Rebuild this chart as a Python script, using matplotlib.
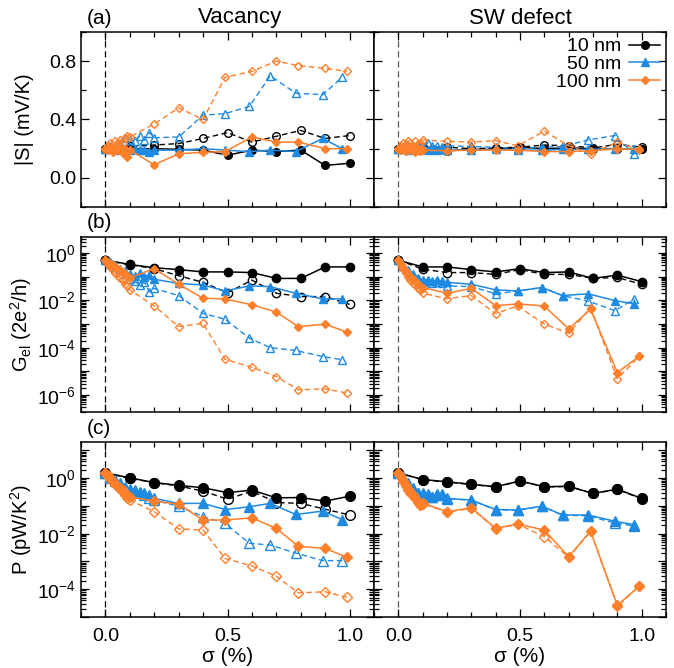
import matplotlib
matplotlib.use("Agg")
import matplotlib.pyplot as plt
from matplotlib.ticker import FixedLocator, FuncFormatter, MultipleLocator, LogLocator, NullFormatter
import numpy as np

plt.rcParams['font.family'] = ['Liberation Sans', 'DejaVu Sans']
plt.rcParams['mathtext.fontset'] = 'custom'
plt.rcParams['mathtext.rm'] = 'Liberation Sans'
plt.rcParams['mathtext.it'] = 'Liberation Sans:italic'
plt.rcParams['mathtext.bf'] = 'Liberation Sans:bold'

# ---------------- data ----------------
sizes = ["10 nm", "50 nm", "100 nm"]
x10 = [0, 0.1, 0.2, 0.3, 0.4, 0.5, 0.6, 0.7, 0.8, 0.9, 1.0]
x50 = [0, 0.02, 0.04, 0.06, 0.08, 0.1, 0.12, 0.14, 0.16, 0.18, 0.2,
       0.3, 0.4, 0.49, 0.59, 0.675, 0.78, 0.89, 0.97]
x100 = [0, 0.01, 0.02, 0.03, 0.04, 0.05, 0.06, 0.07, 0.08, 0.09, 0.1,
        0.2, 0.3, 0.4, 0.49, 0.6, 0.7, 0.79, 0.9, 0.99]

# (a) |S| (mV/K), vacancy
S_vac_10_solid = [0.20, 0.20, 0.20, 0.195, 0.19, 0.155, 0.19, 0.18, 0.19, 0.085, 0.10]
S_vac_10_dash = [0.20, 0.215, 0.225, 0.235, 0.27, 0.31, 0.245, 0.285, 0.325, 0.27, 0.29]
S_vac_50_solid = [0.20, 0.21, 0.19, 0.21, 0.20, 0.19, 0.20, 0.19, 0.19, 0.18, 0.19,
                  0.19, 0.20, 0.19, 0.18, 0.19, 0.18, 0.27, 0.20]
S_vac_50_dash = [0.20, 0.22, 0.21, 0.24, 0.27, 0.26, 0.25, 0.285, 0.26, 0.31, 0.275,
                 0.28, 0.43, 0.44, 0.49, 0.70, 0.58, 0.57, 0.69]
S_vac_100_solid = [0.20, 0.19, 0.21, 0.18, 0.20, 0.19, 0.21, 0.17, 0.20, 0.14, 0.19,
                   0.09, 0.165, 0.175, 0.18, 0.28, 0.245, 0.245, 0.20, 0.20]
S_vac_100_dash = [0.20, 0.22, 0.24, 0.21, 0.25, 0.23, 0.26, 0.24, 0.27, 0.29, 0.28,
                  0.37, 0.48, 0.40, 0.69, 0.73, 0.80, 0.77, 0.75, 0.73]
# (a) |S| (mV/K), SW defect
S_sw_10_solid = [0.20, 0.20, 0.185, 0.195, 0.195, 0.21, 0.20, 0.205, 0.20, 0.20, 0.195]
S_sw_10_dash = [0.20, 0.21, 0.21, 0.20, 0.205, 0.21, 0.225, 0.22, 0.205, 0.23, 0.21]
S_sw_50_solid = [0.20, 0.20, 0.19, 0.20, 0.19, 0.195, 0.19, 0.195, 0.19, 0.195, 0.19,
                 0.19, 0.195, 0.19, 0.19, 0.195, 0.195, 0.20, 0.20]
S_sw_50_dash = [0.20, 0.21, 0.22, 0.21, 0.23, 0.22, 0.24, 0.22, 0.215, 0.21, 0.22,
                0.215, 0.21, 0.20, 0.21, 0.215, 0.26, 0.29, 0.16]
S_sw_100_solid = [0.20, 0.19, 0.20, 0.185, 0.21, 0.19, 0.20, 0.18, 0.195, 0.185, 0.19,
                  0.185, 0.19, 0.19, 0.19, 0.18, 0.18, 0.185, 0.20, 0.195]
S_sw_100_dash = [0.20, 0.22, 0.24, 0.23, 0.25, 0.24, 0.22, 0.25, 0.23, 0.24, 0.26,
                 0.25, 0.245, 0.255, 0.22, 0.32, 0.22, 0.165, 0.245, 0.19]

# (b) G_el (2e^2/h), vacancy
G_vac_10_solid = [0.50, 0.33, 0.24, 0.20, 0.16, 0.16, 0.15, 0.085, 0.085, 0.26, 0.26]
G_vac_10_dash = [0.50, 0.32, 0.22, 0.11, 0.058, 0.021, 0.072, 0.020, 0.0145, 0.0145, 0.0068]
G_vac_50_solid = [0.50, 0.40, 0.30, 0.22, 0.17, 0.13, 0.11, 0.14, 0.10, 0.12, 0.078,
                  0.052, 0.045, 0.025, 0.041, 0.038, 0.020, 0.0115, 0.0115]
G_vac_50_dash = [0.50, 0.35, 0.25, 0.18, 0.126, 0.079, 0.063, 0.045, 0.058, 0.023, 0.032,
                 0.016, 2.8e-3, 1.6e-3, 2.5e-4, 1.0e-4, 7.6e-5, 4.2e-5, 3.1e-5]
G_vac_100_solid = [0.50, 0.42, 0.35, 0.30, 0.26, 0.22, 0.19, 0.16, 0.13, 0.11, 0.091,
                   0.22, 0.048, 0.0123, 0.0115, 6.5e-3, 3.2e-3, 7.8e-4, 9.8e-4, 4.5e-4]
G_vac_100_dash = [0.50, 0.35, 0.25, 0.19, 0.14, 0.11, 0.089, 0.071, 0.050, 0.040, 0.028,
                  5.8e-3, 7.8e-4, 1.07e-3, 3.2e-5, 1.5e-5, 6.0e-6, 1.66e-6, 1.8e-6, 1.2e-6]
# (b) G_el, SW defect
G_sw_10_solid = [0.50, 0.26, 0.26, 0.20, 0.16, 0.22, 0.15, 0.16, 0.085, 0.117, 0.062]
G_sw_10_dash = [0.50, 0.21, 0.15, 0.15, 0.126, 0.20, 0.126, 0.126, 0.085, 0.093, 0.048]
G_sw_50_solid = [0.50, 0.32, 0.20, 0.126, 0.089, 0.072, 0.076, 0.066, 0.071, 0.063, 0.058,
                 0.048, 0.028, 0.025, 0.035, 0.016, 0.019, 9.8e-3, 7.1e-3]
G_sw_50_dash = [0.50, 0.28, 0.18, 0.112, 0.079, 0.058, 0.063, 0.056, 0.060, 0.052, 0.041,
                0.038, 0.019, 0.025, 0.035, 0.016, 9.3e-3, 3.7e-3, 0.0115]
G_sw_100_solid = [0.50, 0.35, 0.25, 0.18, 0.13, 0.10, 0.079, 0.063, 0.050, 0.042, 0.035,
                  0.020, 0.032, 6.0e-3, 7.1e-3, 5.8e-3, 6.2e-4, 4.2e-3, 8.9e-6, 4.3e-5]
G_sw_100_dash = [0.50, 0.32, 0.21, 0.14, 0.10, 0.076, 0.056, 0.045, 0.035, 0.028, 0.020,
                 0.0117, 0.016, 2.75e-3, 5.8e-3, 1.0e-3, 4.1e-4, 4.8e-3, 4.8e-6, 4.3e-5]

# (c) P (pW/K^2), vacancy
P_vac_10_solid = [1.55, 1.02, 0.69, 0.55, 0.45, 0.30, 0.37, 0.195, 0.20, 0.148, 0.224]
P_vac_10_dash = [1.55, 0.98, 0.69, 0.52, 0.34, 0.174, 0.34, 0.132, 0.123, 0.076, 0.047]
P_vac_50_solid = [1.55, 1.12, 0.85, 0.65, 0.49, 0.40, 0.37, 0.32, 0.30, 0.245, 0.186,
                  0.123, 0.123, 0.074, 0.093, 0.123, 0.049, 0.065, 0.032]
P_vac_50_dash = [1.55, 1.0, 0.76, 0.56, 0.45, 0.35, 0.32, 0.28, 0.25, 0.20, 0.158,
                 0.098, 0.041, 0.0234, 4.5e-3, 3.9e-3, 2.0e-3, 1.07e-3, 1.07e-3]
P_vac_100_solid = [1.55, 1.26, 1.0, 0.79, 0.63, 0.52, 0.44, 0.36, 0.30, 0.25, 0.21,
                   0.148, 0.115, 0.031, 0.031, 0.037, 0.0155, 3.5e-3, 2.95e-3, 1.4e-3]
P_vac_100_dash = [1.55, 1.2, 0.93, 0.74, 0.59, 0.48, 0.40, 0.32, 0.25, 0.20, 0.162,
                  0.062, 0.0148, 0.0135, 1.29e-3, 6.9e-4, 2.95e-4, 7.4e-5, 8.1e-5, 5.1e-5]
# (c) P, SW defect
P_sw_10_solid = [1.55, 0.89, 0.74, 0.60, 0.49, 0.79, 0.49, 0.51, 0.28, 0.40, 0.186]
P_sw_10_dash = [1.55, 0.87, 0.72, 0.59, 0.48, 0.78, 0.48, 0.50, 0.28, 0.39, 0.18]
P_sw_50_solid = [1.55, 1.12, 0.65, 0.43, 0.28, 0.28, 0.26, 0.21, 0.26, 0.26, 0.186,
                 0.162, 0.074, 0.071, 0.098, 0.047, 0.047, 0.028, 0.021]
P_sw_50_dash = [1.55, 1.1, 0.63, 0.42, 0.28, 0.27, 0.25, 0.21, 0.25, 0.25, 0.18,
                0.16, 0.072, 0.07, 0.096, 0.046, 0.044, 0.024, 0.019]
P_sw_100_solid = [1.55, 1.12, 0.79, 0.56, 0.40, 0.32, 0.25, 0.20, 0.141, 0.112, 0.126,
                  0.062, 0.085, 0.0155, 0.0224, 0.0135, 1.48e-3, 0.0123, 2.6e-5, 1.29e-4]
P_sw_100_dash = [1.55, 1.1, 0.76, 0.54, 0.38, 0.30, 0.24, 0.19, 0.135, 0.105, 0.12,
                 0.06, 0.082, 0.0148, 0.022, 7.8e-3, 1.4e-3, 0.012, 2.4e-5, 1.29e-4]

col_titles = ["Vacancy", "SW defect"]
panel_tags = ["(a)", "(b)", "(c)"]
ylabels = ["|S| (mV/K)", r"G$_{\rm el}$ (2e$^{2}$/h)", r"P (pW/K$^{2}$)"]

# ---------------- style ----------------
colors = ["black", "#1f8ae2", "#ff7f2a"]
markers = ["o", "^", "D"]
msizes = [[5.5, 5.5, 4.2], [6.0, 6.0, 4.5], [7.0, 6.8, 5.2]]
xs = [x10, x50, x100]

rows = [
    [(S_vac_10_solid, S_vac_10_dash, S_vac_50_solid, S_vac_50_dash, S_vac_100_solid, S_vac_100_dash),
     (S_sw_10_solid, S_sw_10_dash, S_sw_50_solid, S_sw_50_dash, S_sw_100_solid, S_sw_100_dash)],
    [(G_vac_10_solid, G_vac_10_dash, G_vac_50_solid, G_vac_50_dash, G_vac_100_solid, G_vac_100_dash),
     (G_sw_10_solid, G_sw_10_dash, G_sw_50_solid, G_sw_50_dash, G_sw_100_solid, G_sw_100_dash)],
    [(P_vac_10_solid, P_vac_10_dash, P_vac_50_solid, P_vac_50_dash, P_vac_100_solid, P_vac_100_dash),
     (P_sw_10_solid, P_sw_10_dash, P_sw_50_solid, P_sw_50_dash, P_sw_100_solid, P_sw_100_dash)],
]

W, H = 674, 668
fig = plt.figure(figsize=(W / 100, H / 100), dpi=100)

col_x = [(81, 374), (374, 666)]
row_y = [(32, 207), (237, 412), (442, 617)]
title_x = [240, 520]

FS_TICK = 14
FS_LAB = 14.5
legend_handles = []
for r in range(3):
    for c in range(2):
        x0, x1 = col_x[c]
        yt, yb = row_y[r]
        ax = fig.add_axes([x0 / W, 1 - yb / H, (x1 - x0) / W, (yb - yt) / H])
        data = rows[r][c]
        ax.axvline(0, color="black" if c == 0 else "0.35", lw=0.9, ls=(0, (5, 3)), zorder=1)
        for k in range(3):
            solid = data[2 * k]
            dash = data[2 * k + 1]
            ms = msizes[r][k]
            ax.plot(xs[k], dash, ls=(0, (4, 2.5)), lw=1.0, color=colors[k], marker=markers[k],
                    ms=ms, mfc="none", mec=colors[k], mew=1.0, zorder=2 + 2 * k)
            ln, = ax.plot(xs[k], solid, ls="-", lw=1.1, color=colors[k], marker=markers[k],
                          ms=ms, mfc=colors[k], mec=colors[k], zorder=3 + 2 * k, label=sizes[k])
            if r == 0 and c == 1:
                legend_handles.append(ln)
        ax.set_xlim(-0.1, 1.1)
        ax.xaxis.set_major_locator(FixedLocator([0.0, 0.5, 1.0]))
        ax.xaxis.set_minor_locator(MultipleLocator(0.1))
        if r == 0:
            ax.set_ylim(-0.2, 1.0)
            ax.yaxis.set_major_locator(FixedLocator([0.0, 0.4, 0.8]))
            ax.yaxis.set_minor_locator(FixedLocator([-0.2, 0.2, 0.6, 1.0]))
            ax.yaxis.set_major_formatter(FuncFormatter(lambda v, p: f"{v:.1f}"))
        else:
            ax.set_yscale("log")
            if r == 1:
                ax.set_ylim(10 ** -6.72, 10 ** 0.68)
                decs = list(range(-7, 2))
            else:
                ax.set_ylim(1e-5, 10 ** 1.3)
                decs = list(range(-5, 2))
            ax.yaxis.set_major_locator(FixedLocator([10.0 ** d for d in decs]))
            ax.yaxis.set_minor_locator(LogLocator(base=10, subs=np.arange(2, 10), numticks=20))
            ax.yaxis.set_minor_formatter(NullFormatter())
            ax.yaxis.set_major_formatter(FuncFormatter(
                lambda v, p: (r"$10^{%d}$" % round(np.log10(v))) if round(np.log10(v)) % 2 == 0 else ""))
        ax.tick_params(which="both", direction="in", top=True, right=True, labelsize=FS_TICK, width=0.9)
        ax.tick_params(which="major", length=6)
        ax.tick_params(which="minor", length=3.5)
        ax.tick_params(axis="x", which="major", pad=8)
        if r < 2:
            ax.tick_params(axis="x", labelbottom=False)
        else:
            ax.set_xlabel("σ (%)", fontsize=FS_LAB + 0.5, labelpad=1)
        if c == 1:
            ax.tick_params(axis="y", labelleft=False)
        else:
            ax.set_ylabel(ylabels[r], fontsize=FS_LAB)
            ax.yaxis.set_label_coords(-0.16, 0.5)
        for sp in ax.spines.values():
            sp.set_linewidth(1.1)
        if r == 0:
            fig.text(title_x[c] / W, 1 - 18 / H, col_titles[c], fontsize=16, ha="center", va="center")
        if c == 0:
            fig.text(99 / W, 1 - (yt - 14) / H, panel_tags[r], fontsize=15, ha="center", va="center")
        if r == 0 and c == 1:
            ax.legend(handles=legend_handles, loc="upper right", frameon=False, markerfirst=False,
                      fontsize=14, handlelength=1.6, handletextpad=0.4, labelspacing=0.0,
                      borderaxespad=0.1, borderpad=0.2)

fig.savefig("out.png", dpi=100)
